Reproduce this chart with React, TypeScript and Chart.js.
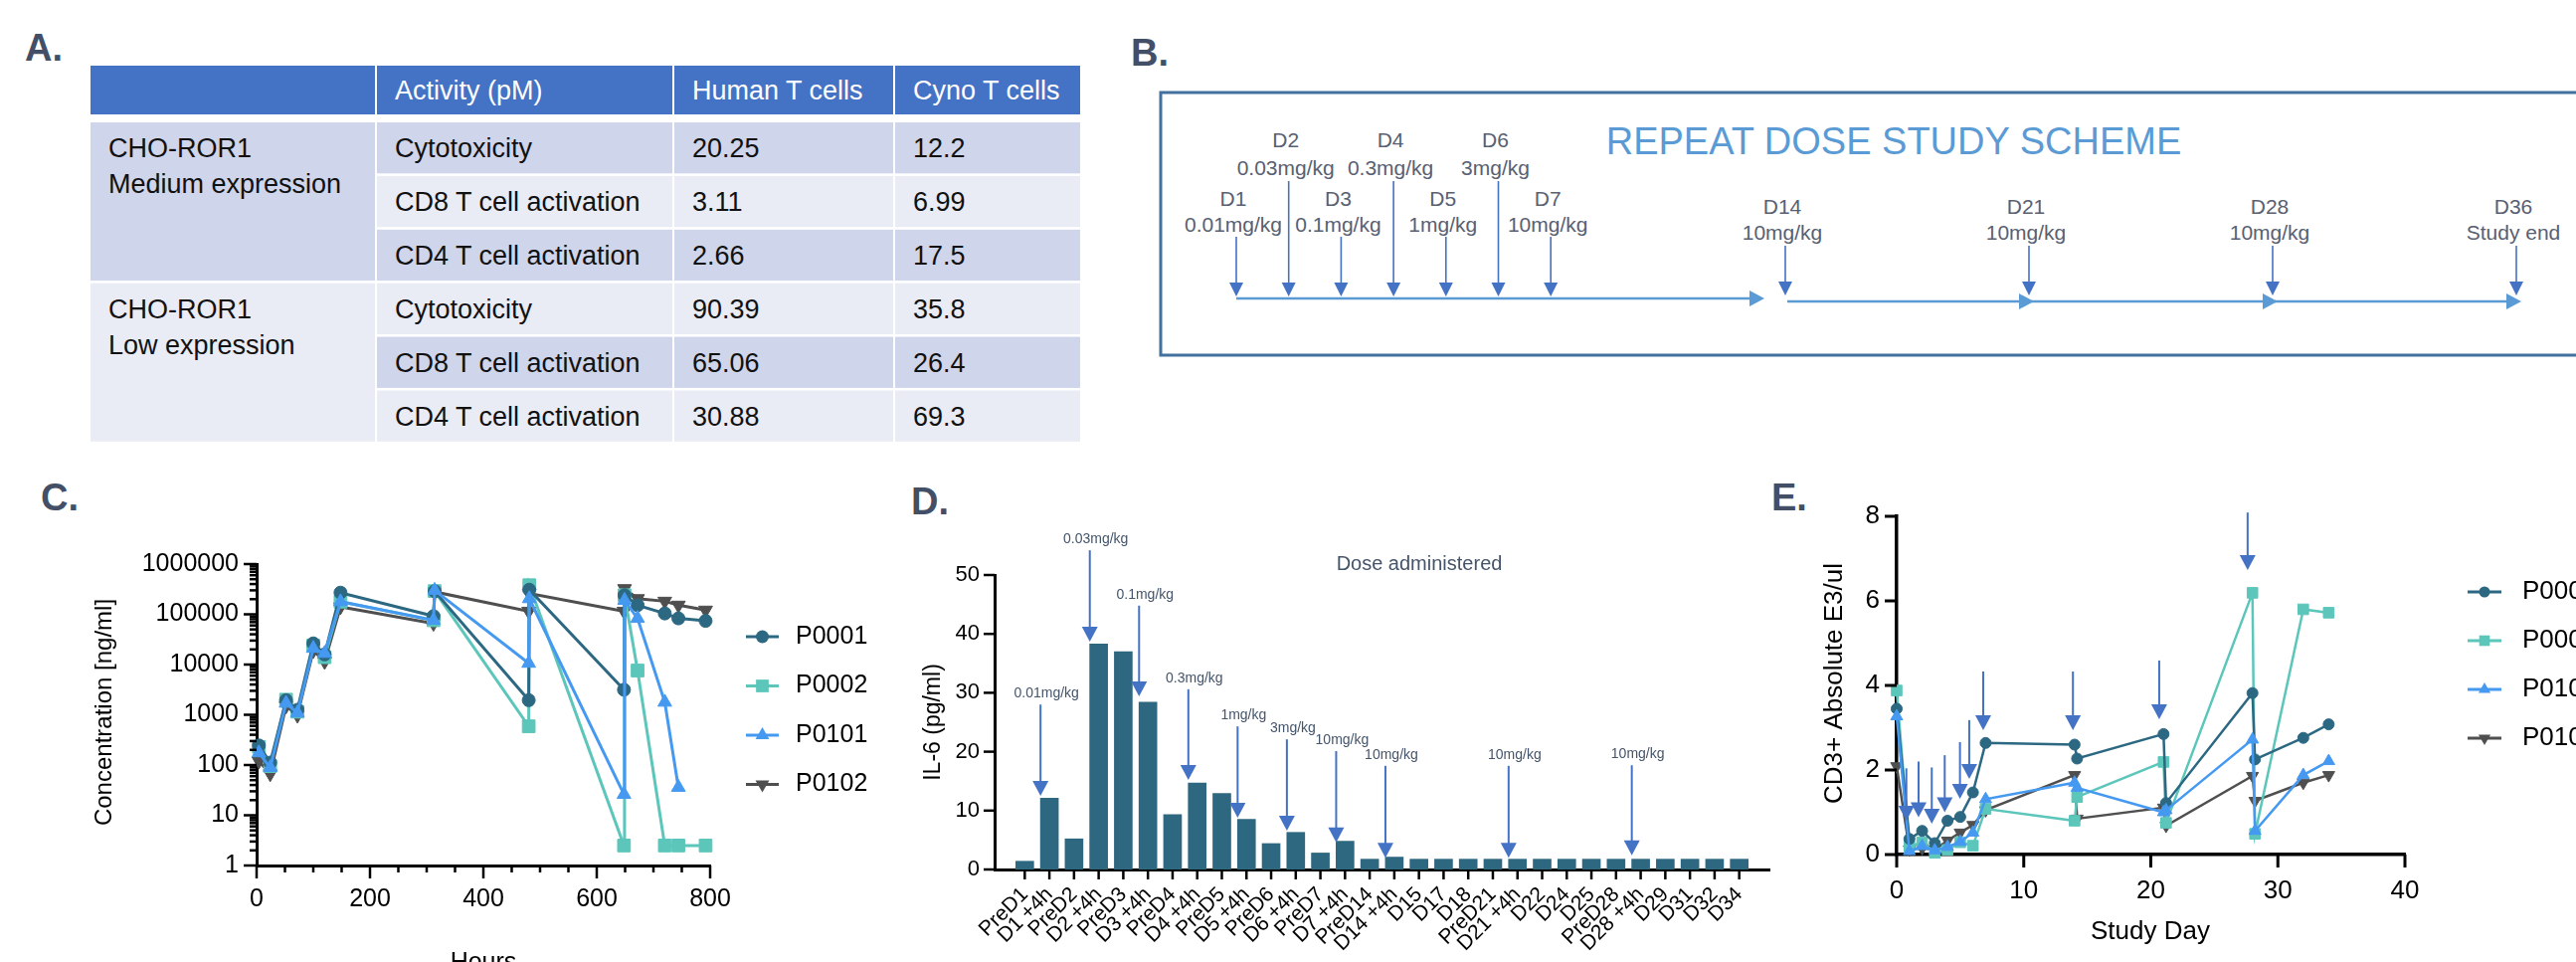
import React, { useEffect, useRef } from 'react';
import { Chart, registerables } from 'chart.js';

Chart.register(...registerables);

const W = 2590;
const H = 967;
const FONT = '"Liberation Sans", Arial, sans-serif';

// ---------------- Panel A data ----------------
const tableHeaders = ['', 'Activity (pM)', 'Human T cells', 'Cyno T cells'];
const cellLineNames = ['CHO-ROR1', 'CHO-ROR1'];
const expressionLevels = ['Medium expression', 'Low expression'];
const activityNames = ['Cytotoxicity', 'CD8 T cell activation', 'CD4 T cell activation'];
const humanTcells = ['20.25', '3.11', '2.66', '90.39', '65.06', '30.88'];
const cynoTcells = ['12.2', '6.99', '17.5', '35.8', '26.4', '69.3'];

// ---------------- Panel B data ----------------
const schemeTitle = 'REPEAT DOSE STUDY SCHEME';
const schemeDays = ['D1', 'D2', 'D3', 'D4', 'D5', 'D6', 'D7', 'D14', 'D21', 'D28', 'D36'];
const schemeDoses = ['0.01mg/kg', '0.03mg/kg', '0.1mg/kg', '0.3mg/kg', '1mg/kg', '3mg/kg', '10mg/kg', '10mg/kg', '10mg/kg', '10mg/kg', 'Study end'];

// ---------------- Panel C data ----------------
const patients = ['P0001', 'P0002', 'P0101', 'P0102'];
const pkHours = [4, 24, 52, 72, 100, 120, 148, 312, 314, 480, 481, 648, 649, 672, 720, 744, 792];
const pkP0001 = [245, 112, 1950, 1260, 26400, 15900, 270000, 92000, 288000, 1950, 309000, 3150, 240000, 152000, 104000, 83000, 74000];
const pkP0002 = [230, 95, 2000, 1150, 24000, 14000, 178000, 76000, 290000, 590, 380000, 2.5, 240000, 7600, 2.5, 2.5, 2.5];
const pkP0101 = [175, 89, 1700, 1090, 21000, 16700, 178000, 76000, 300000, 10600, 205000, 26, 190000, 83000, 1780, 36, null];
const pkP0102 = [120, 67, 1500, 980, 19000, 11500, 141000, 66000, 280000, 115000, 260000, 115000, 324000, 205000, 182000, 152000, 121000];
const pkYTicks = [1, 10, 100, 1000, 10000, 100000, 1000000];
const pkXTicks = [0, 200, 400, 600, 800];

// ---------------- Panel D data ----------------
const il6Categories = ['PreD1', 'D1 +4h', 'PreD2', 'D2 +4h', 'PreD3', 'D3 +4h', 'PreD4', 'D4 +4h', 'PreD5', 'D5 +4h', 'PreD6', 'D6 +4h', 'PreD7', 'D7 +4h', 'PreD14', 'D14 +4h', 'D15', 'D17', 'D18', 'PreD21', 'D21 +4h', 'D22', 'D24', 'D25', 'PreD28', 'D28 +4h', 'D29', 'D31', 'D32', 'D34'];
const il6Values = [1.4, 12.1, 5.2, 38.3, 37.0, 28.4, 9.3, 14.7, 12.9, 8.5, 4.4, 6.3, 2.8, 4.8, 1.75, 2.1, 1.75, 1.75, 1.75, 1.75, 1.75, 1.75, 1.75, 1.75, 1.75, 1.75, 1.75, 1.75, 1.75, 1.75];
const il6YTicks = [0, 10, 20, 30, 40, 50];
const doseArrowCategories = ['D1 +4h', 'D2 +4h', 'D3 +4h', 'D4 +4h', 'D5 +4h', 'D6 +4h', 'D7 +4h', 'D14 +4h', 'D21 +4h', 'D28 +4h'];
const doseArrowLabels = ['0.01mg/kg', '0.03mg/kg', '0.1mg/kg', '0.3mg/kg', '1mg/kg', '3mg/kg', '10mg/kg', '10mg/kg', '10mg/kg', '10mg/kg'];
const doseArrowTop = [28.0, 54.2, 44.8, 30.6, 24.3, 22.1, 20.1, 17.6, 17.6, 17.7];
const doseArrowTip = [12.5, 38.7, 29.4, 15.2, 8.8, 6.6, 4.6, 2.0, 2.0, 2.4];

// ---------------- Panel E data ----------------
const cd3Days = [0, 1, 2, 3, 4, 5, 6, 7, 14, 14.2, 21, 21.2, 28, 28.2, 32, 34];
const cd3P0001 = [3.45, 0.37, 0.56, 0.27, 0.8, 0.89, 1.47, 2.64, 2.6, 2.27, 2.85, 1.22, 3.82, 2.25, 2.76, 3.08];
const cd3P0002 = [3.88, 0.19, 0.29, 0.04, 0.11, 0.29, 0.21, 1.08, 0.8, 1.36, 2.19, 0.75, 6.19, 0.49, 5.8, 5.72];
const cd3P0101 = [3.27, 0.08, 0.2, 0.1, 0.18, 0.3, 0.52, 1.31, 1.7, 1.58, 1.0, 1.05, 2.72, 0.56, 1.88, 2.21];
const cd3P0102 = [2.09, 0.12, 0.15, 0.12, 0.33, 0.52, 0.7, 1.05, 1.88, 0.85, 1.11, 0.68, 1.86, 1.27, 1.7, 1.88];
const cd3XTicks = [0, 10, 20, 30, 40];
const cd3YTicks = [0, 2, 4, 6, 8];
const cd3ArrowDays = [0.76, 1.72, 2.76, 3.78, 4.98, 5.71, 6.81, 13.87, 20.66, 27.62];
const cd3ArrowTop = [2.04, 2.2, 2.06, 2.35, 2.66, 3.18, 4.33, 4.33, 4.59, 8.09];
const cd3ArrowTip = [0.8, 0.88, 0.73, 1.0, 1.32, 1.79, 2.94, 2.94, 3.2, 6.73];

// ---------------- styles ----------------
const seriesColors = ['#2c6882', '#5cc6bb', '#4599f0', '#4f4f4f'];
const pointStyles = ['circle', 'rect', 'triangle', 'triangle'];
const pointRotations = [0, 0, 0, 180];
const drawOrder = [1, 2, 0, 3];
const barColor = '#2e6780';
const arrowColor = '#4472c4';
const noteColor = '#44546a';
const panelLabelColor = '#424f66';

type Pt = { x: number; y: number };
function series(xs: number[], ys: (number | null)[]): Pt[] {
  const out: Pt[] = [];
  xs.forEach((x, i) => {
    const y = ys[i];
    if (y !== null && y !== undefined) out.push({ x, y });
  });
  return out;
}

function drawMarker(ctx: CanvasRenderingContext2D, style: string, x: number, y: number, r: number, rot: number) {
  ctx.beginPath();
  if (style === 'circle') {
    ctx.arc(x, y, r, 0, Math.PI * 2);
  } else if (style === 'rect') {
    const s = r * Math.SQRT1_2;
    ctx.rect(x - s, y - s, 2 * s, 2 * s);
  } else {
    let a = (rot * Math.PI) / 180;
    for (let k = 0; k < 3; k++) {
      const px = x + Math.sin(a) * r;
      const py = y - Math.cos(a) * r;
      if (k === 0) ctx.moveTo(px, py);
      else ctx.lineTo(px, py);
      a += (2 * Math.PI) / 3;
    }
  }
  ctx.closePath();
  ctx.fill();
}

function drawText(ctx: CanvasRenderingContext2D, s: string, x: number, y: number, font: string, color: string, align: CanvasTextAlign = 'center', base: CanvasTextBaseline = 'middle', rot = 0) {
  ctx.save();
  ctx.translate(x, y);
  if (rot) ctx.rotate(rot);
  ctx.font = font;
  ctx.fillStyle = color;
  ctx.textAlign = align;
  ctx.textBaseline = base;
  ctx.fillText(s, 0, 0);
  ctx.restore();
}

function drawArrow(ctx: CanvasRenderingContext2D, x: number, yTop: number, yTip: number, color: string, headW = 16, headH = 15, lw = 2) {
  ctx.save();
  ctx.strokeStyle = color;
  ctx.fillStyle = color;
  ctx.lineWidth = lw;
  ctx.beginPath();
  ctx.moveTo(x, yTop);
  ctx.lineTo(x, yTip - headH + 1);
  ctx.stroke();
  ctx.beginPath();
  ctx.moveTo(x - headW / 2, yTip - headH);
  ctx.lineTo(x + headW / 2, yTip - headH);
  ctx.lineTo(x, yTip);
  ctx.closePath();
  ctx.fill();
  ctx.restore();
}

function tickMarks(cfg: { xMajor: (v: number) => boolean; yMajor: (v: number) => boolean; xLen: number; xMinor: number; yLen: number; yMinor: number; width: number }) {
  return {
    id: 'tickMarks',
    afterDraw(chart: any) {
      const ctx: CanvasRenderingContext2D = chart.ctx;
      const xs = chart.scales.x;
      const ys = chart.scales.y;
      ctx.save();
      ctx.strokeStyle = '#000';
      ctx.lineWidth = cfg.width;
      for (const t of xs.ticks) {
        const px = xs.getPixelForValue(t.value);
        const len = cfg.xMajor(t.value) ? cfg.xLen : cfg.xMinor;
        ctx.beginPath();
        ctx.moveTo(px, xs.top);
        ctx.lineTo(px, xs.top + len);
        ctx.stroke();
      }
      for (const t of ys.ticks) {
        const py = ys.getPixelForValue(t.value);
        const len = cfg.yMajor(t.value) ? cfg.yLen : cfg.yMinor;
        ctx.beginPath();
        ctx.moveTo(ys.right, py);
        ctx.lineTo(ys.right - len, py);
        ctx.stroke();
      }
      ctx.restore();
    },
  };
}

function legendPlugin(x0: number, y0: number, dy: number, lineLen: number, textX: number, radii: number[], lw: number, fontSize: number) {
  return {
    id: 'customLegend',
    afterDraw(chart: any) {
      const ctx: CanvasRenderingContext2D = chart.ctx;
      chart.data.datasets.forEach((ds: any, i: number) => {
        const y = y0 + i * dy;
        ctx.save();
        ctx.strokeStyle = ds.borderColor;
        ctx.fillStyle = ds.borderColor;
        ctx.lineWidth = lw;
        ctx.beginPath();
        ctx.moveTo(x0, y);
        ctx.lineTo(x0 + lineLen, y);
        ctx.stroke();
        drawMarker(ctx, ds.pointStyle, x0 + lineLen / 2, y, radii[i], ds.pointRotation || 0);
        ctx.restore();
        drawText(ctx, ds.label, textX, y, `${fontSize}px ${FONT}`, '#000', 'left', 'middle');
      });
    },
  };
}

function lineDatasets(xs: number[], values: (number | null)[][], radii: number[], lw: number) {
  return patients.map((p, i) => ({
    label: p,
    data: series(xs, values[i]),
    borderColor: seriesColors[i],
    backgroundColor: seriesColors[i],
    pointBackgroundColor: seriesColors[i],
    pointBorderColor: seriesColors[i],
    pointStyle: pointStyles[i],
    pointRotation: pointRotations[i],
    pointRadius: radii[i],
    pointBorderWidth: 1,
    borderWidth: lw,
    tension: 0,
    clip: false,
    order: drawOrder[i],
  }));
}

function makeC(canvas: HTMLCanvasElement) {
  const area = { l: 258, t: 567, r: 714, b: 870 };
  const YW = 150;
  const XH = 60;
  const radii = [6.5, 9, 8, 8];
  const yMinor: number[] = [];
  for (let e = 0; e < 6; e++) for (let s = 1; s <= 9; s++) yMinor.push(s * Math.pow(10, e));
  yMinor.push(1e6);
  const xAll: number[] = [];
  for (let v = 0; v <= 800; v += 50) xAll.push(v);
  return new Chart(canvas, {
    type: 'line',
    data: { datasets: lineDatasets(pkHours, [pkP0001, pkP0002, pkP0101, pkP0102], radii, 3) as any },
    options: {
      responsive: false,
      animation: false,
      devicePixelRatio: 1,
      layout: { padding: { left: area.l - YW, top: area.t, right: W - area.r, bottom: H - area.b - XH } },
      plugins: { legend: { display: false }, tooltip: { enabled: false } },
      scales: {
        x: {
          type: 'linear', min: 0, max: 800,
          afterFit: (s: any) => { s.height = XH; },
          afterBuildTicks: (s: any) => { s.ticks = xAll.map((v) => ({ value: v })); },
          ticks: { autoSkip: false, maxRotation: 0, padding: 6, color: '#000', font: { family: FONT, size: 25 }, callback: (v: any) => (pkXTicks.includes(v) ? String(v) : '') },
          grid: { display: false, drawTicks: true, tickLength: 13 },
          border: { display: true, width: 3, color: '#000' },
        },
        y: {
          type: 'logarithmic', min: 1, max: 1e6,
          afterFit: (s: any) => { s.width = YW; },
          afterBuildTicks: (s: any) => { s.ticks = yMinor.map((v) => ({ value: v })); },
          ticks: { autoSkip: false, padding: 5, color: '#000', font: { family: FONT, size: 25 }, callback: (v: any) => (pkYTicks.includes(v) ? String(v) : '') },
          grid: { display: false, drawTicks: true, tickLength: 13 },
          border: { display: true, width: 3, color: '#000' },
        },
      },
    } as any,
    plugins: [
      tickMarks({ xMajor: (v) => pkXTicks.includes(v), yMajor: (v) => pkYTicks.includes(v), xLen: 13, xMinor: 7, yLen: 13, yMinor: 7, width: 2.5 }),
      legendPlugin(750, 640, 49.5, 33, 800, [6.5, 9, 8, 8], 3, 25),
      {
        id: 'cDecor',
        afterDraw(chart: any) {
          const ctx = chart.ctx;
          drawText(ctx, 'Concentration [ng/ml]', 105, 716, `24px ${FONT}`, '#000', 'center', 'middle', -Math.PI / 2);
          drawText(ctx, 'Hours', 486, 956, `25px ${FONT}`, '#000', 'center', 'top');
        },
      },
    ],
  });
}

function makeD(canvas: HTMLCanvasElement) {
  const area = { l: 1000, t: 578, r: 1779, b: 874 };
  const YW = 60;
  const XH = 92;
  return new Chart(canvas, {
    type: 'bar',
    data: {
      datasets: [
        {
          label: 'IL-6',
          data: il6Values.map((v, i) => ({ x: i, y: v })),
          backgroundColor: barColor,
          borderWidth: 0,
          barThickness: 18,
        },
      ],
    },
    options: {
      responsive: false,
      animation: false,
      devicePixelRatio: 1,
      layout: { padding: { left: area.l - YW, top: area.t, right: W - area.r, bottom: H - area.b - XH } },
      plugins: { legend: { display: false }, tooltip: { enabled: false } },
      scales: {
        x: {
          type: 'linear', min: -0.7, max: il6Categories.length - 0.3,
          afterFit: (s: any) => { s.height = XH; },
          afterBuildTicks: (s: any) => { s.ticks = il6Categories.map((_, i) => ({ value: i })); },
          ticks: { autoSkip: false, minRotation: 45, maxRotation: 45, padding: 3, color: '#000', font: { family: FONT, size: 21 }, callback: (v: any) => il6Categories[v] ?? '' },
          grid: { display: false, drawTicks: true, tickLength: 10 },
          border: { display: true, width: 3, color: '#000' },
        },
        y: {
          type: 'linear', min: 0, max: 50,
          afterFit: (s: any) => { s.width = YW; },
          afterBuildTicks: (s: any) => { s.ticks = il6YTicks.map((v) => ({ value: v })); },
          ticks: { autoSkip: false, padding: 4, color: '#000', font: { family: FONT, size: 22 } },
          grid: { display: false, drawTicks: true, tickLength: 11 },
          border: { display: true, width: 3, color: '#000' },
        },
      },
    } as any,
    plugins: [
      tickMarks({ xMajor: () => true, yMajor: () => true, xLen: 10, xMinor: 10, yLen: 11, yMinor: 11, width: 2.5 }),
      {
        id: 'dDecor',
        afterDraw(chart: any) {
          const ctx = chart.ctx;
          const xs = chart.scales.x;
          const ys = chart.scales.y;
          doseArrowCategories.forEach((cat, i) => {
            const idx = il6Categories.indexOf(cat);
            const x = xs.getPixelForValue(idx - 0.36);
            const yTop = ys.getPixelForValue(doseArrowTop[i]);
            const yTip = ys.getPixelForValue(doseArrowTip[i]);
            drawArrow(ctx, x, yTop, yTip, arrowColor, 16, 15, 2);
            drawText(ctx, doseArrowLabels[i], x + 6, yTop - 11, `14px ${FONT}`, noteColor);
          });
          drawText(ctx, 'Dose administered', 1427, 567, `20px ${FONT}`, noteColor);
          drawText(ctx, 'IL-6 (pg/ml)', 939, 726, `23px ${FONT}`, '#000', 'center', 'middle', -Math.PI / 2);
        },
      },
    ],
  });
}

function makeE(canvas: HTMLCanvasElement) {
  const area = { l: 1907, t: 519, r: 2418, b: 859 };
  const YW = 70;
  const XH = 70;
  const radii = [5.5, 7.5, 7, 7];
  return new Chart(canvas, {
    type: 'line',
    data: { datasets: lineDatasets(cd3Days, [cd3P0001, cd3P0002, cd3P0101, cd3P0102], radii, 2.5) as any },
    options: {
      responsive: false,
      animation: false,
      devicePixelRatio: 1,
      layout: { padding: { left: area.l - YW, top: area.t, right: W - area.r, bottom: H - area.b - XH } },
      plugins: { legend: { display: false }, tooltip: { enabled: false } },
      scales: {
        x: {
          type: 'linear', min: 0, max: 40,
          afterFit: (s: any) => { s.height = XH; },
          afterBuildTicks: (s: any) => { s.ticks = cd3XTicks.map((v) => ({ value: v })); },
          ticks: { autoSkip: false, maxRotation: 0, padding: 8, color: '#000', font: { family: FONT, size: 26 } },
          grid: { display: false, drawTicks: true, tickLength: 13 },
          border: { display: true, width: 3.5, color: '#000' },
        },
        y: {
          type: 'linear', min: 0, max: 8,
          afterFit: (s: any) => { s.width = YW; },
          afterBuildTicks: (s: any) => { s.ticks = cd3YTicks.map((v) => ({ value: v })); },
          ticks: { autoSkip: false, padding: 5, color: '#000', font: { family: FONT, size: 26 } },
          grid: { display: false, drawTicks: true, tickLength: 12 },
          border: { display: true, width: 3.5, color: '#000' },
        },
      },
    } as any,
    plugins: [
      tickMarks({ xMajor: () => true, yMajor: () => true, xLen: 13, xMinor: 13, yLen: 12, yMinor: 12, width: 3 }),
      legendPlugin(2481, 595, 49, 34, 2536, [5.5, 7.5, 7, 7], 3, 26),
      {
        id: 'eDecor',
        afterDraw(chart: any) {
          const ctx = chart.ctx;
          const xs = chart.scales.x;
          const ys = chart.scales.y;
          cd3ArrowDays.forEach((d, i) => {
            drawArrow(ctx, xs.getPixelForValue(d), ys.getPixelForValue(cd3ArrowTop[i]), ys.getPixelForValue(cd3ArrowTip[i]), arrowColor, 16, 15, 2);
          });
          drawText(ctx, 'CD3+ Absolute E3/ul', 1845, 687, `26px ${FONT}`, '#000', 'center', 'middle', -Math.PI / 2);
          drawText(ctx, 'Study Day', 2162, 937, `26px ${FONT}`, '#000', 'center', 'middle');
        },
      },
    ],
  });
}

function StaticArt() {
  // Table A geometry
  const colX = [91, 379, 678, 900];
  const colW = [286, 297, 220, 186];
  const rowTop = (i: number) => 123 + i * 53.9;
  const rowH = 51.3;
  const dark = '#cfd5ea';
  const light = '#e9ebf5';
  const tFont = 27;
  const capOff = 9.7;
  const cells: any[] = [];
  tableHeaders.forEach((h, c) => {
    cells.push(<rect key={'h' + c} x={colX[c]} y={66} width={colW[c]} height={49} fill="#4472c4" />);
    if (h) cells.push(<text key={'ht' + c} x={colX[c] + 18} y={90.5 + capOff} fill="#fff" fontSize={tFont} fontFamily={FONT}>{h}</text>);
  });
  for (let g = 0; g < 2; g++) {
    const top = rowTop(g * 3);
    const bottom = rowTop(g * 3 + 2) + rowH;
    cells.push(<rect key={'g' + g} x={colX[0]} y={top} width={colW[0]} height={bottom - top} fill={g === 0 ? dark : light} />);
    const base = top + rowH / 2 + capOff;
    cells.push(<text key={'gt' + g} x={colX[0] + 18} y={base} fill="#111" fontSize={tFont} fontFamily={FONT}>{cellLineNames[g]}</text>);
    cells.push(<text key={'ge' + g} x={colX[0] + 18} y={base + 36} fill="#111" fontSize={tFont} fontFamily={FONT}>{expressionLevels[g]}</text>);
  }
  for (let r = 0; r < 6; r++) {
    const top = rowTop(r);
    const fill = r % 2 === 0 ? dark : light;
    const vals = [activityNames[r % 3], humanTcells[r], cynoTcells[r]];
    vals.forEach((v, k) => {
      const c = k + 1;
      cells.push(<rect key={`r${r}c${c}`} x={colX[c]} y={top} width={colW[c]} height={rowH} fill={fill} />);
      cells.push(<text key={`t${r}c${c}`} x={colX[c] + 18} y={top + rowH / 2 + capOff} fill="#111" fontSize={tFont} fontFamily={FONT}>{v}</text>);
    });
  }

  // Scheme B geometry
  const bX = (i: number) => (i < 7 ? 1243 + i * 52.7 : 1795 + (i - 7) * 245);
  const scheme: any[] = [];
  const bColor = '#586072';
  schemeDays.forEach((d, i) => {
    const x = bX(i);
    let dayY: number, doseY: number, top: number, tip: number;
    if (i < 7 && i % 2 === 1) { dayY = 148; doseY = 176; top = 182; tip = 298; }
    else if (i < 7) { dayY = 207; doseY = 233; top = 238; tip = 298; }
    else { dayY = 215; doseY = 241; top = 247; tip = 297; }
    scheme.push(<text key={'sd' + i} x={x - 3} y={dayY} textAnchor="middle" fill={bColor} fontSize={21} fontFamily={FONT}>{d}</text>);
    scheme.push(<text key={'so' + i} x={x - 3} y={doseY} textAnchor="middle" fill={bColor} fontSize={21} fontFamily={FONT}>{schemeDoses[i]}</text>);
    scheme.push(<line key={'sl' + i} x1={x} y1={top} x2={x} y2={tip - 13} stroke={arrowColor} strokeWidth={1.6} />);
    scheme.push(<polygon key={'sp' + i} points={`${x - 7},${tip - 14} ${x + 7},${tip - 14} ${x},${tip}`} fill={arrowColor} />);
  });
  const segs: [number, number, number][] = [[bX(0), bX(7) - 21, 300]];
  for (let k = 7; k < 10; k++) segs.push([bX(k) + 2, bX(k + 1) + 5, 303]);
  segs.forEach(([x1, x2, y], i) => {
    scheme.push(<line key={'tl' + i} x1={x1} y1={y} x2={x2 - 12} y2={y} stroke="#5b9bd5" strokeWidth={2.5} />);
    scheme.push(<polygon key={'ta' + i} points={`${x2 - 15},${y - 8} ${x2},${y} ${x2 - 15},${y + 8}`} fill="#5b9bd5" />);
  });

  const label = (t: string, x: number, y: number) => (
    <text key={'pl' + t} x={x} y={y} fill={panelLabelColor} fontSize={38} fontWeight="bold" fontFamily={FONT}>{t}</text>
  );

  return (
    <svg width={W} height={H} style={{ position: 'absolute', left: 0, top: 0 }}>
      {label('A.', 25, 61)}
      {label('B.', 1137, 66)}
      {label('C.', 41, 513)}
      {label('D.', 916, 517)}
      {label('E.', 1781, 513)}
      {cells}
      <rect x={1167} y={93} width={1500} height={264} fill="none" stroke="#41719c" strokeWidth={3} />
      <text x={1904} y={155} textAnchor="middle" fill="#5b9bd5" fontSize={38} fontFamily={FONT}>{schemeTitle}</text>
      {scheme}
    </svg>
  );
}

export default function App() {
  const cRef = useRef<HTMLCanvasElement>(null);
  const dRef = useRef<HTMLCanvasElement>(null);
  const eRef = useRef<HTMLCanvasElement>(null);
  useEffect(() => {
    const charts = [makeC(cRef.current!), makeD(dRef.current!), makeE(eRef.current!)];
    return () => charts.forEach((c) => c.destroy());
  }, []);
  const cs: React.CSSProperties = { position: 'absolute', left: 0, top: 0, width: W, height: H };
  return (
    <div style={{ position: 'fixed', left: 0, top: 0, width: W, height: H, background: '#fff', overflow: 'hidden' }}>
      <StaticArt />
      <canvas ref={cRef} width={W} height={H} style={cs} />
      <canvas ref={dRef} width={W} height={H} style={cs} />
      <canvas ref={eRef} width={W} height={H} style={cs} />
    </div>
  );
}
